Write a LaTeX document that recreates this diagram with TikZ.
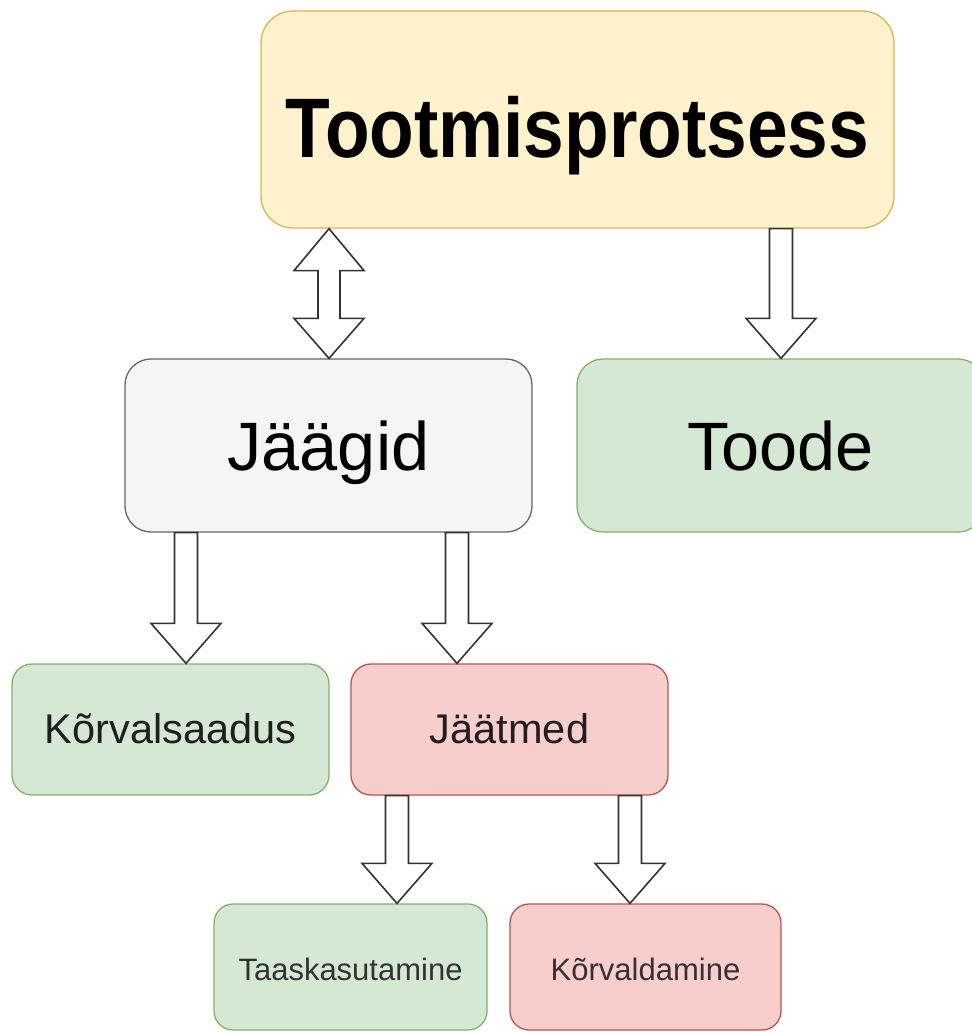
\documentclass[tikz,border=0pt]{standalone}
\usepackage{fontspec}
\setmainfont{Liberation Sans}
\usetikzlibrary{calc}
\definecolor{ylwF}{HTML}{FFF2CC}\definecolor{ylwD}{HTML}{D6B656}
\definecolor{gryF}{HTML}{F5F5F5}\definecolor{gryD}{HTML}{666666}
\definecolor{grnF}{HTML}{D5E8D4}\definecolor{grnD}{HTML}{82B366}
\definecolor{redF}{HTML}{F8CECC}\definecolor{redD}{HTML}{B85450}
\definecolor{arrD}{HTML}{333333}
\definecolor{txtD}{HTML}{333333}
\tikzset{
  box/.style={draw, line width=1.3pt, inner sep=0pt, align=center, text depth=0pt},
  ylwbox/.style={box, fill=ylwF, draw=ylwD},
  grybox/.style={box, fill=gryF, draw=gryD},
  grnbox/.style={box, fill=grnF, draw=grnD},
  redbox/.style={box, fill=redF, draw=redD},
  barrow/.style={draw=arrD, fill=white, line width=1.6pt, line join=miter},
}
\newcommand\blockdown[2]{%
  \draw[barrow] let \p1=(#1), \p2=(#2) in
    (\x1-11.5pt,\y1) -- (\x1-11.5pt,\y2+40pt) -- (\x1-35pt,\y2+40pt) -- (\x2,\y2)
    -- (\x1+35pt,\y2+40pt) -- (\x1+11.5pt,\y2+40pt) -- (\x1+11.5pt,\y1) -- cycle;}
\newcommand\blockboth[2]{%
  \draw[barrow] let \p1=(#1), \p2=(#2) in
    (\x1,\y1) -- (\x1+35pt,\y1-42pt) -- (\x1+11pt,\y1-42pt) -- (\x1+11pt,\y2+40pt)
    -- (\x1+35pt,\y2+40pt) -- (\x2,\y2) -- (\x1-35pt,\y2+40pt) -- (\x1-11pt,\y2+40pt)
    -- (\x1-11pt,\y1-42pt) -- (\x1-35pt,\y1-42pt) -- cycle;}
\begin{document}
\begin{tikzpicture}[x=1pt,y=-1pt]
\useasboundingbox[fill=white] (0,0) rectangle (971,1032);
% boxes
\node[ylwbox, minimum width=633pt, minimum height=217pt, rounded corners=32pt, text height=77pt]
  (top) at (577.5,119.5) {\scalebox{0.865}[1]{\fontsize{84.5}{90}\selectfont\bfseries Tootmisprotsess}};
\node[grybox, minimum width=407pt, minimum height=173pt, rounded corners=26pt, text height=50.4pt]
  (jaagid) at (328.5,445.5) {\fontsize{68.5}{80}\selectfont Jäägid};
\node[grnbox, minimum width=407pt, minimum height=173pt, rounded corners=26pt, text height=50.4pt]
  (toode) at (780.5,445.5) {\fontsize{68.5}{80}\selectfont Toode};
\node[grnbox, minimum width=317pt, minimum height=131pt, rounded corners=20pt, text height=27.6pt, text=black!88]
  (korvs) at (170.5,729.5) {\fontsize{41.5}{48}\selectfont Kõrvalsaadus};
\node[redbox, minimum width=317pt, minimum height=131pt, rounded corners=20pt, text height=27.6pt, text=black!88]
  (jaatmed) at (509.5,729.5) {\fontsize{41.5}{48}\selectfont Jäätmed};
\node[grnbox, minimum width=273pt, minimum height=126pt, rounded corners=19pt, text height=26pt, text=txtD]
  (taask) at (350.5,967) {\fontsize{31}{36}\selectfont Taaskasutamine};
\node[redbox, minimum width=271pt, minimum height=126pt, rounded corners=19pt, text height=26pt, text=txtD]
  (korvd) at (645.5,967) {\fontsize{31}{36}\selectfont Kõrvaldamine};
% arrow end points
\coordinate (a1s) at (329,0 |- top.south);
\coordinate (a1e) at (329,0 |- jaagid.north);
\coordinate (a2s) at (781,0 |- top.south);
\coordinate (a2e) at (781,0 |- toode.north);
\coordinate (a3s) at (186,0 |- jaagid.south);
\coordinate (a3e) at (186,0 |- korvs.north);
\coordinate (a4s) at (457,0 |- jaagid.south);
\coordinate (a4e) at (457,0 |- jaatmed.north);
\coordinate (a5s) at (397,0 |- jaatmed.south);
\coordinate (a5e) at (397,0 |- taask.north);
\coordinate (a6s) at (630,0 |- jaatmed.south);
\coordinate (a6e) at (630,0 |- korvd.north);
% arrows
\blockboth{a1s}{a1e}
\blockdown{a2s}{a2e}
\blockdown{a3s}{a3e}
\blockdown{a4s}{a4e}
\blockdown{a5s}{a5e}
\blockdown{a6s}{a6e}
\end{tikzpicture}
\end{document}
